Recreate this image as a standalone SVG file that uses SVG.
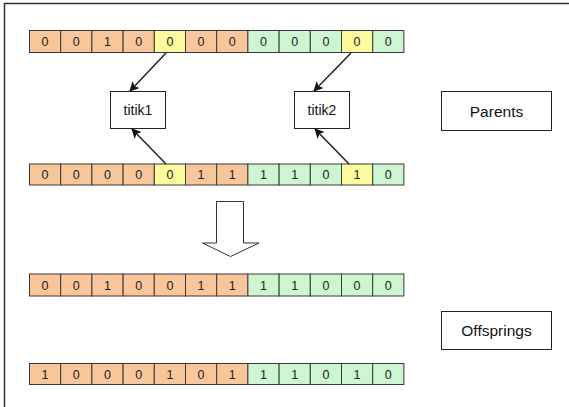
<svg xmlns="http://www.w3.org/2000/svg" width="569" height="407" viewBox="0 0 569 407">
<defs>
<style>
.o{fill:#F9C59B;stroke:#3a3a3a;stroke-width:1}
.g{fill:#CDF5CF;stroke:#3a3a3a;stroke-width:1}
.y{fill:#FBFB9E;stroke:#3a3a3a;stroke-width:1}
.t{font-family:"Liberation Sans",Arial,sans-serif;font-size:12.5px;fill:#222;text-anchor:middle}
.l{font-family:"Liberation Sans",Arial,sans-serif;font-size:14px;fill:#111;text-anchor:middle}
.L{font-family:"Liberation Sans",Arial,sans-serif;font-size:15.5px;fill:#111;text-anchor:middle}
.box{fill:#fff;stroke:#222;stroke-width:1}
.con{stroke:#222;stroke-width:1.5;fill:none;marker-end:url(#ah)}
</style>
<marker id="ah" viewBox="0 0 10 10" refX="9" refY="5" markerWidth="10" markerHeight="10" markerUnits="userSpaceOnUse" orient="auto">
<path d="M0,0 L10,5 L0,10 L2.5,5 Z" fill="#111"/>
</marker>
</defs>
<rect width="569" height="407" fill="#fff"/>
<path d="M4.5,407 V3.5 H569" fill="none" stroke="#333" stroke-width="1.5"/>

<g id="row1">
<rect class="o" x="29.5" y="30.5" width="31.2" height="22"/>
<rect class="o" x="60.7" y="30.5" width="31.2" height="22"/>
<rect class="o" x="91.9" y="30.5" width="31.2" height="22"/>
<rect class="o" x="123.1" y="30.5" width="31.2" height="22"/>
<rect class="y" x="154.3" y="30.5" width="31.2" height="22"/>
<rect class="o" x="185.5" y="30.5" width="31.2" height="22"/>
<rect class="o" x="216.7" y="30.5" width="31.2" height="22"/>
<rect class="g" x="247.9" y="30.5" width="31.2" height="22"/>
<rect class="g" x="279.1" y="30.5" width="31.2" height="22"/>
<rect class="g" x="310.3" y="30.5" width="31.2" height="22"/>
<rect class="y" x="341.5" y="30.5" width="31.2" height="22"/>
<rect class="g" x="372.7" y="30.5" width="31.2" height="22"/>
<text class="t" x="45.1" y="46">0</text><text class="t" x="76.3" y="46">0</text><text class="t" x="107.5" y="46">1</text><text class="t" x="138.7" y="46">0</text><text class="t" x="169.9" y="46">0</text><text class="t" x="201.1" y="46">0</text><text class="t" x="232.3" y="46">0</text><text class="t" x="263.5" y="46">0</text><text class="t" x="294.7" y="46">0</text><text class="t" x="325.9" y="46">0</text><text class="t" x="357.1" y="46">0</text><text class="t" x="388.3" y="46">0</text>
</g>

<g id="row2">
<rect class="o" x="29.5" y="164" width="31.2" height="21"/>
<rect class="o" x="60.7" y="164" width="31.2" height="21"/>
<rect class="o" x="91.9" y="164" width="31.2" height="21"/>
<rect class="o" x="123.1" y="164" width="31.2" height="21"/>
<rect class="y" x="154.3" y="164" width="31.2" height="21"/>
<rect class="o" x="185.5" y="164" width="31.2" height="21"/>
<rect class="o" x="216.7" y="164" width="31.2" height="21"/>
<rect class="g" x="247.9" y="164" width="31.2" height="21"/>
<rect class="g" x="279.1" y="164" width="31.2" height="21"/>
<rect class="g" x="310.3" y="164" width="31.2" height="21"/>
<rect class="y" x="341.5" y="164" width="31.2" height="21"/>
<rect class="g" x="372.7" y="164" width="31.2" height="21"/>
<text class="t" x="45.1" y="179">0</text><text class="t" x="76.3" y="179">0</text><text class="t" x="107.5" y="179">0</text><text class="t" x="138.7" y="179">0</text><text class="t" x="169.9" y="179">0</text><text class="t" x="201.1" y="179">1</text><text class="t" x="232.3" y="179">1</text><text class="t" x="263.5" y="179">1</text><text class="t" x="294.7" y="179">1</text><text class="t" x="325.9" y="179">0</text><text class="t" x="357.1" y="179">1</text><text class="t" x="388.3" y="179">0</text>
</g>

<g id="row3">
<rect class="o" x="29.5" y="274" width="31.2" height="22"/>
<rect class="o" x="60.7" y="274" width="31.2" height="22"/>
<rect class="o" x="91.9" y="274" width="31.2" height="22"/>
<rect class="o" x="123.1" y="274" width="31.2" height="22"/>
<rect class="o" x="154.3" y="274" width="31.2" height="22"/>
<rect class="o" x="185.5" y="274" width="31.2" height="22"/>
<rect class="o" x="216.7" y="274" width="31.2" height="22"/>
<rect class="g" x="247.9" y="274" width="31.2" height="22"/>
<rect class="g" x="279.1" y="274" width="31.2" height="22"/>
<rect class="g" x="310.3" y="274" width="31.2" height="22"/>
<rect class="g" x="341.5" y="274" width="31.2" height="22"/>
<rect class="g" x="372.7" y="274" width="31.2" height="22"/>
<text class="t" x="45.1" y="289.5">0</text><text class="t" x="76.3" y="289.5">0</text><text class="t" x="107.5" y="289.5">1</text><text class="t" x="138.7" y="289.5">0</text><text class="t" x="169.9" y="289.5">0</text><text class="t" x="201.1" y="289.5">1</text><text class="t" x="232.3" y="289.5">1</text><text class="t" x="263.5" y="289.5">1</text><text class="t" x="294.7" y="289.5">1</text><text class="t" x="325.9" y="289.5">0</text><text class="t" x="357.1" y="289.5">0</text><text class="t" x="388.3" y="289.5">0</text>
</g>

<g id="row4">
<rect class="o" x="29.5" y="363.5" width="31.2" height="21"/>
<rect class="o" x="60.7" y="363.5" width="31.2" height="21"/>
<rect class="o" x="91.9" y="363.5" width="31.2" height="21"/>
<rect class="o" x="123.1" y="363.5" width="31.2" height="21"/>
<rect class="o" x="154.3" y="363.5" width="31.2" height="21"/>
<rect class="o" x="185.5" y="363.5" width="31.2" height="21"/>
<rect class="o" x="216.7" y="363.5" width="31.2" height="21"/>
<rect class="g" x="247.9" y="363.5" width="31.2" height="21"/>
<rect class="g" x="279.1" y="363.5" width="31.2" height="21"/>
<rect class="g" x="310.3" y="363.5" width="31.2" height="21"/>
<rect class="g" x="341.5" y="363.5" width="31.2" height="21"/>
<rect class="g" x="372.7" y="363.5" width="31.2" height="21"/>
<text class="t" x="45.1" y="378.5">1</text><text class="t" x="76.3" y="378.5">0</text><text class="t" x="107.5" y="378.5">0</text><text class="t" x="138.7" y="378.5">0</text><text class="t" x="169.9" y="378.5">1</text><text class="t" x="201.1" y="378.5">0</text><text class="t" x="232.3" y="378.5">1</text><text class="t" x="263.5" y="378.5">1</text><text class="t" x="294.7" y="378.5">1</text><text class="t" x="325.9" y="378.5">0</text><text class="t" x="357.1" y="378.5">1</text><text class="t" x="388.3" y="378.5">0</text>
</g>

<g id="titik1">
<rect class="box" x="110.5" y="91.5" width="55" height="37"/>
<text class="l" x="138" y="115">titik1</text>
</g>
<g id="titik2">
<rect class="box" x="294.5" y="91.5" width="55" height="37"/>
<text class="l" x="322" y="115">titik2</text>
</g>
<g id="parents">
<rect class="box" x="441.5" y="91.5" width="110" height="39"/>
<text class="L" x="496.5" y="116.5">Parents</text>
</g>
<g id="offsprings">
<rect class="box" x="441.5" y="311.5" width="110" height="38"/>
<text class="L" x="496.5" y="336">Offsprings</text>
</g>
<g id="bigarrow">
<path d="M216.5,201.5 H243.5 V243 H259 L230.5,256.5 L202.5,243 H216.5 Z" fill="#fff" stroke="#333" stroke-width="1"/>
</g>

<g id="connectors">
<line class="con" x1="166" y1="53" x2="130" y2="91"/>
<line class="con" x1="166" y1="164" x2="132" y2="129"/>
<line class="con" x1="351" y1="53" x2="314" y2="91"/>
<line class="con" x1="349" y1="164" x2="315" y2="129"/>
</g>
</svg>
